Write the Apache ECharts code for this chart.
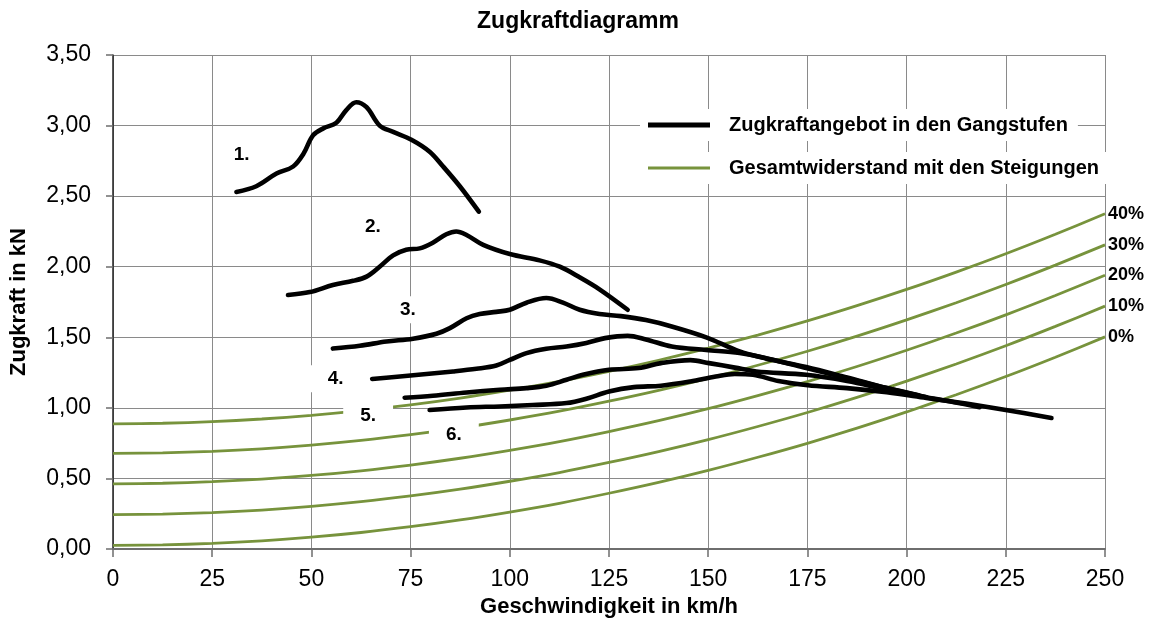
<!DOCTYPE html>
<html>
<head>
<meta charset="utf-8">
<script src="https://cdn.jsdelivr.net/npm/echarts@6/dist/echarts.min.js"></script>
<style>
html,body{margin:0;padding:0;background:#fff;}
#chart{width:1156px;height:623px;}
</style>
</head>
<body>
<div id="chart"></div>
<script>
// ---- data ----
const speeds = [0, 12.5, 25, 37.5, 50, 62.5, 75, 87.5, 100, 112.5, 125, 137.5, 150, 162.5, 175, 187.5, 200, 212.5, 225, 237.5, 250];
const grade0  = [0.025, 0.029, 0.040, 0.058, 0.084, 0.117, 0.158, 0.206, 0.262, 0.324, 0.395, 0.472, 0.557, 0.650, 0.749, 0.856, 0.971, 1.093, 1.222, 1.359, 1.503];
const grade10 = [0.243, 0.247, 0.258, 0.276, 0.302, 0.335, 0.376, 0.424, 0.480, 0.542, 0.613, 0.690, 0.775, 0.868, 0.967, 1.074, 1.189, 1.311, 1.440, 1.577, 1.721];
const grade20 = [0.462, 0.466, 0.477, 0.495, 0.521, 0.554, 0.595, 0.643, 0.699, 0.761, 0.832, 0.909, 0.994, 1.087, 1.186, 1.293, 1.408, 1.530, 1.659, 1.796, 1.940];
const grade30 = [0.677, 0.681, 0.692, 0.710, 0.736, 0.769, 0.810, 0.858, 0.914, 0.976, 1.047, 1.124, 1.209, 1.302, 1.401, 1.508, 1.623, 1.745, 1.874, 2.011, 2.155];
const grade40 = [0.887, 0.891, 0.902, 0.921, 0.947, 0.980, 1.021, 1.069, 1.125, 1.188, 1.259, 1.337, 1.423, 1.516, 1.616, 1.724, 1.839, 1.962, 2.092, 2.230, 2.375];
const gradeLabels = ['0%', '10%', '20%', '30%', '40%'];

const gear1 = [[31.1,2.53],[36.1,2.57],[41.2,2.66],[45.4,2.71],[48.0,2.80],[50.4,2.93],[53.0,2.98],[56.3,3.02],[58.8,3.11],[61.3,3.165],[63.9,3.13],[67.2,3.00],[70.6,2.955],[75.2,2.90],[79.8,2.815],[83.2,2.71],[87.4,2.57],[92.2,2.39]];
const gear2 = [[44.1,1.80],[49.6,1.82],[55.4,1.87],[60.5,1.90],[63.9,1.93],[67.2,2.00],[70.6,2.08],[73.9,2.12],[77.3,2.13],[80.6,2.17],[84.0,2.23],[86.5,2.25],[89.1,2.225],[93.3,2.155],[100.0,2.09],[107.5,2.045],[112.6,2.00],[117.6,1.925],[122.6,1.84],[129.7,1.695]];
const gear3 = [[55.4,1.42],[62.2,1.44],[68.9,1.47],[75.6,1.49],[81.5,1.525],[84.9,1.565],[89.1,1.635],[92.4,1.665],[96.6,1.68],[100.0,1.695],[104.2,1.745],[109.2,1.778],[113.4,1.746],[117.6,1.695],[122.6,1.665],[128.0,1.65],[134.3,1.622],[140.8,1.577],[149.5,1.50],[157.9,1.40],[164.5,1.35],[174.7,1.29],[185.0,1.215],[195.0,1.14],[205.0,1.075],[212.0,1.04],[218.4,1.005]];
const gear4 = [[65.3,1.205],[72.3,1.222],[79.0,1.24],[85.7,1.258],[91.6,1.277],[96.6,1.30],[100.0,1.34],[104.2,1.388],[109.2,1.419],[114.3,1.435],[119.3,1.46],[124.0,1.494],[129.7,1.51],[134.3,1.485],[140.8,1.435],[149.5,1.41],[157.9,1.388],[166.3,1.341],[174.7,1.282],[185.0,1.21],[195.0,1.14],[203.0,1.09]];
const gear5 = [[73.5,1.072],[80.6,1.086],[89.1,1.109],[97.5,1.128],[104.2,1.14],[109.2,1.157],[114.3,1.199],[118.4,1.234],[125.0,1.27],[132.5,1.282],[138.1,1.317],[145.5,1.338],[150.2,1.317],[156.7,1.285],[162.1,1.258],[174.7,1.234],[185.0,1.19],[195.0,1.13],[205.0,1.075]];
const gear6 = [[79.8,0.985],[89.1,1.003],[97.5,1.01],[105.8,1.02],[114.3,1.034],[119.3,1.065],[125.0,1.116],[131.3,1.147],[138.1,1.157],[145.5,1.187],[151.9,1.222],[156.7,1.24],[161.3,1.234],[167.7,1.19],[175.1,1.16],[185.0,1.14],[195.0,1.11],[205.0,1.07],[215.0,1.03],[225.0,0.985],[236.5,0.928]];

const gearLabels = ['1.', '2.', '3.', '4.', '5.', '6.'];
const gearLabelX = [32.4, 65.5, 74.3, 56.1, 64.3, 85.9];
const gearLabelY = [2.79, 2.285, 1.695, 1.206, 0.944, 0.81];

const xTicks = [0, 25, 50, 75, 100, 125, 150, 175, 200, 225, 250];
const yTicks = [0, 0.5, 1, 1.5, 2, 2.5, 3, 3.5];

const NAME_GEAR = 'Zugkraftangebot in den Gangstufen';
const NAME_RES = 'Gesamtwiderstand mit den Steigungen';

// ---- build ----
const FONT = 'Liberation Sans, Arial, sans-serif';
const GREEN = '#77933C';
const grades = [grade0, grade10, grade20, grade30, grade40];
const gears = [gear1, gear2, gear3, gear4, gear5, gear6];

const series = [];
grades.forEach((g, i) => {
  series.push({
    name: NAME_RES,
    type: 'line',
    data: speeds.map((s, k) => [s, g[k]]),
    smooth: 0.3,
    symbol: 'none',
    lineStyle: { color: GREEN, width: 2.8 },
    itemStyle: { color: GREEN },
    z: 2,
    silent: true,
    endLabel: {
      show: true,
      formatter: () => gradeLabels[i],
      color: '#000',
      fontFamily: FONT,
      fontWeight: 'bold',
      fontSize: 18,
      distance: 3
    }
  });
});
gears.forEach(g => {
  series.push({
    name: NAME_GEAR,
    type: 'line',
    data: g,
    smooth: 0.35,
    symbol: 'none',
    lineStyle: { color: '#000', width: 4.6, cap: 'round', join: 'round' },
    itemStyle: { color: '#000' },
    z: 3,
    silent: true
  });
});
series.push({
  type: 'scatter',
  symbolSize: 0,
  z: 4,
  silent: true,
  itemStyle: { opacity: 1 },
  data: gearLabels.map((t, i) => [gearLabelX[i], gearLabelY[i], t]),
  label: {
    show: true,
    position: 'inside',
    formatter: p => p.data[2],
    color: '#000',
    opacity: 1,
    fontFamily: FONT,
    fontWeight: 'bold',
    fontSize: 19,
    backgroundColor: '#fff',
    padding: [4, 17, 4, 17]
  }
});

const chart = echarts.init(document.getElementById('chart'), null, { renderer: 'canvas' });
const legendCommon = {
  orient: 'vertical',
  left: 640,
  itemWidth: 62,
  backgroundColor: '#fff',
  padding: [6, 10, 6, 8],
  selectedMode: false,
  textStyle: { fontFamily: FONT, fontWeight: 'bold', fontSize: 20, color: '#000', padding: [0, 0, 0, 14] }
};
chart.setOption({
  animation: false,
  backgroundColor: '#fff',
  title: {
    text: 'Zugkraftdiagramm',
    left: 'center',
    top: 5,
    textStyle: { fontFamily: FONT, fontWeight: 'bold', fontSize: 23, color: '#000' }
  },
  legend: [
    Object.assign({}, legendCommon, { top: 109, itemHeight: 5, data: [{ name: NAME_GEAR, icon: 'rect' }] }),
    Object.assign({}, legendCommon, { top: 152, itemHeight: 3, data: [{ name: NAME_RES, icon: 'rect' }] })
  ],
  grid: { left: 113, right: 51, top: 55, bottom: 74, containLabel: false },
  xAxis: {
    type: 'value',
    min: 0, max: 250, interval: 25,
    name: 'Geschwindigkeit in km/h',
    nameLocation: 'middle',
    nameGap: 45,
    nameTextStyle: { fontFamily: FONT, fontWeight: 'bold', fontSize: 22, color: '#000' },
    axisLine: { show: true, lineStyle: { color: '#6e6e6e', width: 2 } },
    axisTick: { show: true, length: 8, lineStyle: { color: '#6e6e6e', width: 1.5 } },
    axisLabel: { margin: 19, fontFamily: FONT, fontSize: 23, color: '#000', formatter: v => xTicks.includes(v) ? String(v) : '' },
    splitLine: { show: true, lineStyle: { color: '#8a8a8a', width: 1 } }
  },
  yAxis: {
    type: 'value',
    min: 0, max: 3.5, interval: 0.5,
    name: 'Zugkraft in kN',
    nameLocation: 'middle',
    nameGap: 83,
    nameTextStyle: { fontFamily: FONT, fontWeight: 'bold', fontSize: 22, color: '#000' },
    axisLine: { show: true, lineStyle: { color: '#222', width: 1.5 } },
    axisTick: { show: true, length: 7, lineStyle: { color: '#6e6e6e', width: 1.5 } },
    axisLabel: { margin: 22, fontFamily: FONT, fontSize: 23, color: '#000', formatter: v => yTicks.some(t => Math.abs(t - v) < 1e-9) ? v.toFixed(2).replace('.', ',') : '' },
    splitLine: { show: true, lineStyle: { color: '#8a8a8a', width: 1 } }
  },
  series: series
});
</script>
</body>
</html>
